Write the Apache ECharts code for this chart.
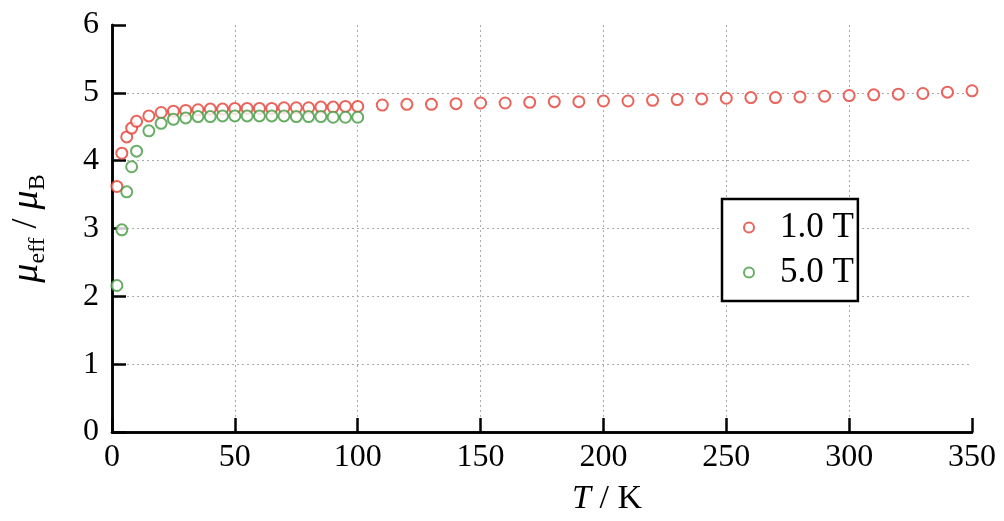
<!DOCTYPE html>
<html>
<head>
<meta charset="utf-8">
<script src="https://cdn.jsdelivr.net/npm/echarts@6/dist/echarts.min.js"></script>
<style>
  html, body { margin: 0; padding: 0; background: #fff; }
  #chart { width: 1004px; height: 521px; }
</style>
</head>
<body>
<div id="chart"></div>
<script>
// 1.0 T
var temps1T = [2, 4, 6, 8, 10, 15, 20, 25, 30, 35, 40, 45, 50, 55, 60, 65, 70, 75, 80, 85, 90, 95, 100,
  110, 120, 130, 140, 150, 160, 170, 180, 190, 200, 210, 220, 230, 240, 250, 260, 270, 280, 290, 300,
  310, 320, 330, 340, 350];
var mu1T = [3.62, 4.11, 4.35, 4.48, 4.58, 4.66, 4.71, 4.73, 4.74, 4.75, 4.76, 4.76, 4.77, 4.77, 4.77, 4.77, 4.78, 4.78, 4.78, 4.79, 4.79, 4.80, 4.80,
  4.82, 4.83, 4.83, 4.84, 4.85, 4.85, 4.86, 4.87, 4.87, 4.88, 4.88, 4.89, 4.90, 4.91, 4.92, 4.93, 4.93, 4.94, 4.95, 4.96,
  4.97, 4.98, 4.99, 5.01, 5.03];
// 5.0 T
var temps5T = [2, 4, 6, 8, 10, 15, 20, 25, 30, 35, 40, 45, 50, 55, 60, 65, 70, 75, 80, 85, 90, 95, 100];
var mu5T = [2.16, 2.98, 3.54, 3.91, 4.14, 4.44, 4.55, 4.61, 4.63, 4.65, 4.65, 4.66, 4.66, 4.66, 4.66, 4.66, 4.66, 4.65, 4.65, 4.65, 4.64, 4.64, 4.64];

var seriesNames = ['1.0 T', '5.0 T'];
var xTicks = { min: 0, max: 350, interval: 50 };
var yTicks = { min: 0, max: 6, interval: 1 };

function pairs(xs, ys) {
  return xs.map(function (x, i) { return [x, ys[i]]; });
}

var font = 'Liberation Serif';
var chart = echarts.init(document.getElementById('chart'));

chart.setOption({
  animation: false,
  grid: { left: 106, right: 32, top: 25, bottom: 85 },
  xAxis: [
    {
      type: 'value',
      min: xTicks.min, max: xTicks.max, interval: xTicks.interval,
      axisLine: { lineStyle: { color: '#000', width: 2.5 } },
      axisTick: { inside: true, length: 14, lineStyle: { color: '#000', width: 2.5 } },
      axisLabel: { color: '#000', fontFamily: font, fontSize: 32, margin: 10 },
      splitLine: { showMinLine: false, showMaxLine: false, lineStyle: { color: '#aaa', type: [2, 3], width: 1 } },
      name: '{i|T} / K',
      nameLocation: 'middle',
      nameGap: 50,
      nameTextStyle: {
        color: '#000', fontFamily: font, fontSize: 34, padding: [0, 0, 0, 130],
        rich: { i: { fontStyle: 'italic', fontFamily: font, fontSize: 34, color: '#000' } }
      }
    },
    {
      type: 'value', position: 'top',
      min: xTicks.min, max: xTicks.max, interval: xTicks.interval,
      axisLine: { lineStyle: { color: '#000', width: 2.5 } },
      axisTick: { show: false }, axisLabel: { show: false }, splitLine: { show: false }
    }
  ],
  yAxis: [
    {
      type: 'value',
      min: yTicks.min, max: yTicks.max, interval: yTicks.interval,
      axisLine: { show: true, lineStyle: { color: '#000', width: 2.5 } },
      axisTick: { show: true, inside: true, length: 14, lineStyle: { color: '#000', width: 2.5 } },
      axisLabel: { color: '#000', fontFamily: font, fontSize: 32, margin: 13 },
      splitLine: { showMinLine: false, showMaxLine: false, lineStyle: { color: '#aaa', type: [2, 3], width: 1 } },
      name: '{m|μ}{s|eff}{n| / }{m|μ}{s|B}',
      nameLocation: 'middle',
      nameRotate: 90,
      nameGap: 62,
      nameTextStyle: {
        color: '#000', fontFamily: font,
        rich: {
          m: { fontStyle: 'italic', fontFamily: font, fontSize: 38, color: '#000', lineHeight: 38, padding: [0, 0, 8, 0] },
          n: { fontFamily: font, fontSize: 36, color: '#000', lineHeight: 38, padding: [0, 0, 8, 0] },
          s: { fontFamily: font, fontSize: 24, color: '#000', lineHeight: 24, verticalAlign: 'bottom' }
        }
      }
    },
    {
      type: 'value', position: 'right',
      min: yTicks.min, max: yTicks.max, interval: yTicks.interval,
      axisLine: { show: true, lineStyle: { color: '#000', width: 2.5 } },
      axisTick: { show: false }, axisLabel: { show: false }, splitLine: { show: false }
    }
  ],
  legend: {
    orient: 'vertical',
    left: 722, top: 199,
    padding: [11, 4, 11, 21],
    itemGap: 10,
    itemWidth: 52, itemHeight: 10,
    backgroundColor: '#fff',
    borderColor: '#000', borderWidth: 2.5, borderRadius: 0,
    textStyle: { color: '#000', fontFamily: font, fontSize: 35 },
    data: seriesNames
  },
  series: [
    {
      name: seriesNames[0],
      type: 'scatter',
      symbol: 'emptyCircle',
      symbolSize: 11,
      itemStyle: { color: '#e53d33', borderWidth: 1.5 },
      data: pairs(temps1T, mu1T)
    },
    {
      name: seriesNames[1],
      type: 'scatter',
      symbol: 'emptyCircle',
      symbolSize: 11,
      itemStyle: { color: '#429a3f', borderWidth: 1.5 },
      data: pairs(temps5T, mu5T)
    }
  ]
});
</script>
</body>
</html>
